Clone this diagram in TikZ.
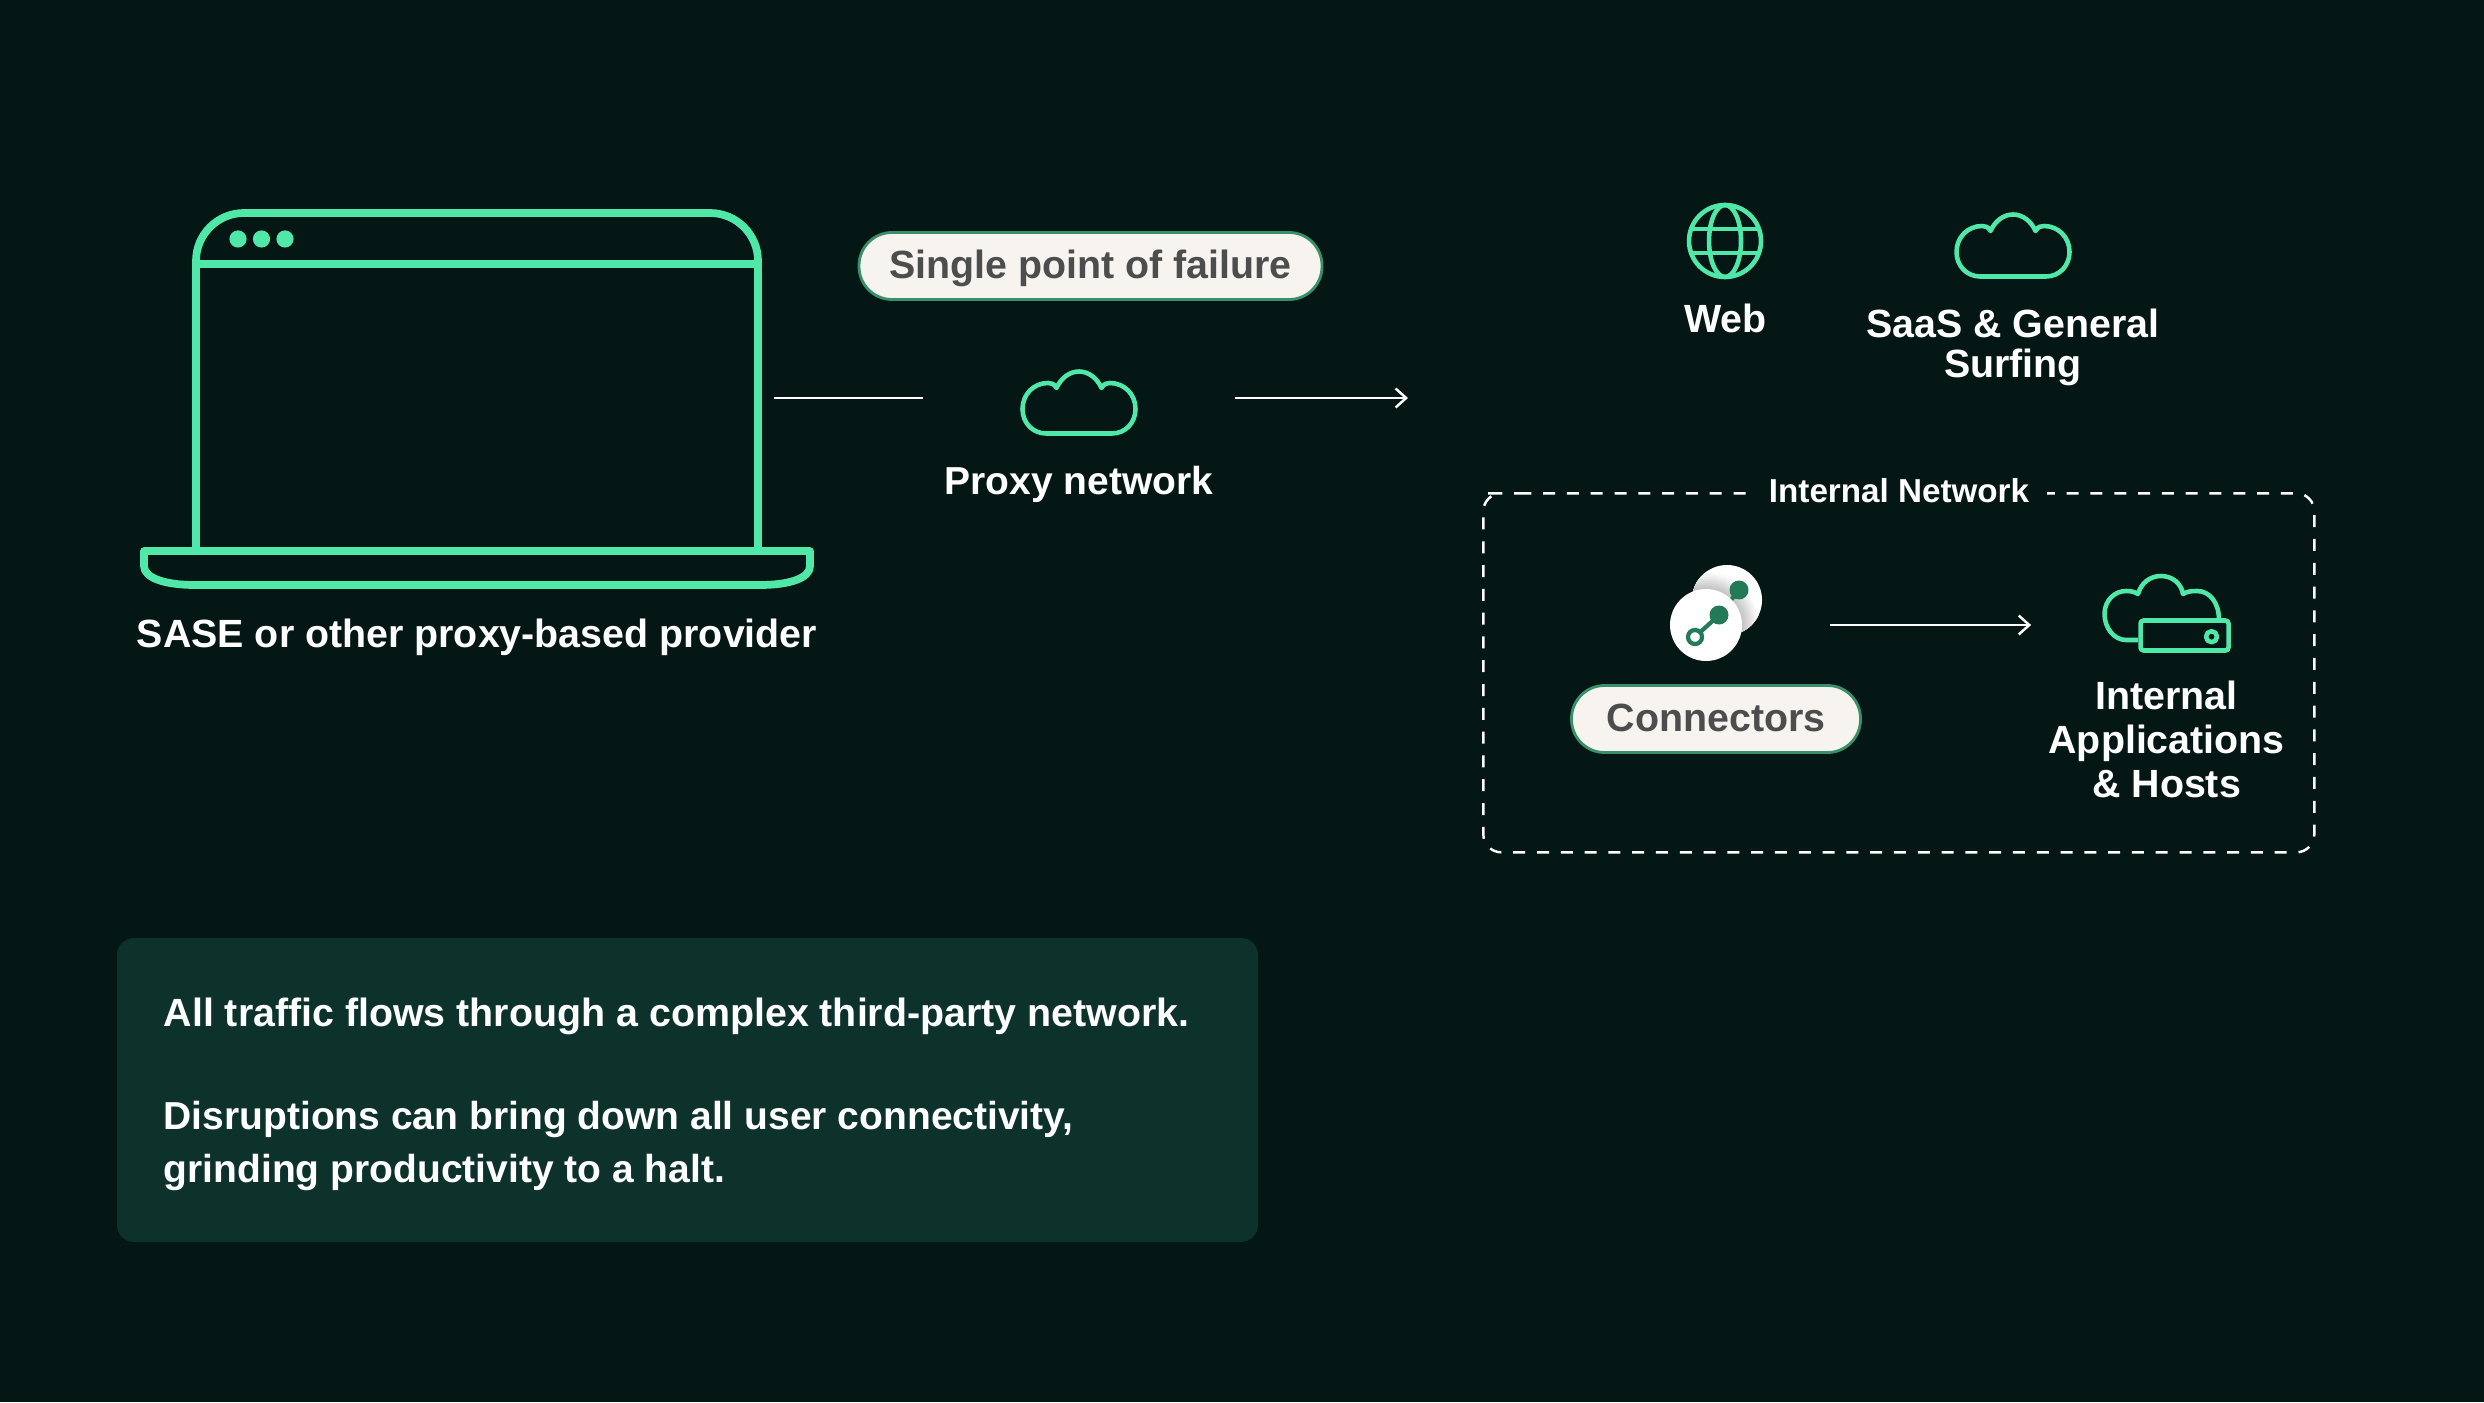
\documentclass[tikz,border=0pt]{standalone}
\usepackage{fontspec}
\setmainfont{Liberation Sans}
\usetikzlibrary{positioning,arrows.meta,bending}

\definecolor{pagebg}{HTML}{041715}
\definecolor{panelbg}{HTML}{0D322C}
\definecolor{mint}{HTML}{4FE8A9}
\definecolor{pillbg}{HTML}{F7F4EF}
\definecolor{pillrim}{HTML}{38906B}
\definecolor{pilltext}{HTML}{4D4D4D}
\definecolor{dotgreen}{HTML}{237A57}

\begin{document}
\begin{tikzpicture}[
  x=0.1mm, y=-0.1mm,
  laptopline/.style={draw=mint, line width=2.2pt, line join=round},
  iconline/.style={draw=mint, line width=1.3pt, line join=round},
  wire/.style={draw=white, line width=0.7pt},
  arrowwire/.style={wire, -{Straight Barb[length=3pt,width=5.4pt]}},
  label/.style={text=white, font=\fontsize{11.1}{12.5}\bfseries, anchor=base, inner sep=0pt, align=center},
  slot/.style={inner sep=0pt, outer sep=0pt, minimum height=8mm},
  pill/.style={draw=pillrim, line width=0.8pt, fill=pillbg, text=pilltext, rounded corners=3.3mm,
    font=\fontsize{11.2}{13}\bfseries, minimum height=6.7mm, inner sep=0pt, text height=2.5mm, text depth=0pt},
  cloudicon/.pic={
    \draw[iconline] (26,64.5) -- (92,64.5)
      .. controls (105,64.5) and (115.5,54) .. (115.5,40)
      .. controls (115.5,25) and (104,14) .. (90,14)
      .. controls (87,14) and (84,14.5) .. (81.5,19)
      .. controls (77,9) and (68.5,2.5) .. (59,2.5)
      .. controls (49.5,2.5) and (41,9) .. (36.5,19)
      .. controls (34,14.5) and (31,14) .. (28,14)
      .. controls (14,14) and (2.5,25) .. (2.5,40)
      .. controls (2.5,54) and (13,64.5) .. (26,64.5) -- cycle;
  }
]
\useasboundingbox[fill=pagebg] (0,0) rectangle (2484,1402);

% Laptop
\node[slot, minimum width=59.5mm] (laptop) at (476.5,398) {};
\draw[laptopline, rounded corners=4.8mm] (196,551) -- (196,213) -- (758,213) -- (758,551);
\draw[laptopline] (196,264) -- (758,264);
\draw[laptopline] (144,551) -- (144,566) .. controls (144,578) and (165,585) .. (195,585)
  -- (760,585) .. controls (790,585) and (810,578) .. (810,566) -- (810,551) -- cycle;
\foreach \dotx in {238,261.5,285}
  \fill[mint] (\dotx,239) circle (8.6);
\node[label, font=\fontsize{11.2}{12.5}\bfseries] (laptoplabel) at (477,647) {SASE or other proxy-based provider};

% Proxy network
\node[pill, minimum width=46.3mm] (spof) at (1090.5,266) {Single point of failure};
\node[slot, minimum width=31.2mm] (proxy) at (1078.6,398) {};
\pic at (1020,369) {cloudicon};
\node[label] (proxylabel) at (1079,494) {Proxy network};
\coordinate (outnet) at (1408,398);

% --- laptop -> proxy -> outside ---
\draw[wire] (laptop) -- (proxy);
\draw[arrowwire] (proxy) -- (outnet);

% Web
\node[circle, iconline, minimum size=7.2mm, inner sep=0pt] (web) at (1725,241) {};
\draw[iconline] (web.center) ellipse (16 and 36);
\draw[iconline] (1691,229) -- (1759,229);
\draw[iconline] (1691,253) -- (1759,253);
\node[label, font=\fontsize{11.2}{12.5}\bfseries] (weblabel) at (1725.5,333) {Web};

% SaaS
\pic at (1954,212) {cloudicon};
\node[label, font=\fontsize{11.2}{11.1}\bfseries] (saaslabel) at (2013,377) {SaaS \& General\\Surfing};

% Internal network box
\draw[wire, dash pattern=on 12*0.2845pt off 11.8*0.2845pt, rounded corners=1.8mm]
  (1501.3,493.3) -- (2314.3,493.3) -- (2314.3,852.3) -- (1483.3,852.3) -- (1483.3,493.3) -- cycle;
\node[fill=pagebg, inner xsep=1.8mm, inner ysep=1mm, text=white, font=\fontsize{9.45}{11}\bfseries, anchor=base] (inttitle) at (1899,502) {Internal Network};

% Connectors
\node[slot, minimum width=22.7mm] (connicon) at (1716,625) {};
\fill[white] (1727,600) circle (35);
\begin{scope}
  \clip (1727,600) circle (35);
  \foreach \rad [evaluate=\rad as \amt using (54-\rad)*1.4] in {54,52,...,36}
    \fill[black!\amt!white] (1706,625) circle (\rad);
\end{scope}
\fill[dotgreen] (1739,590) circle (9.5);
\draw[dotgreen, line width=1.2pt] (1739,590) -- (1731,600);
\fill[white] (1706,625) circle (36);
\fill[dotgreen] (1719,615) circle (9.5);
\draw[dotgreen, line width=1.2pt] (1719,615) -- (1695,637);
\draw[dotgreen, line width=1.2pt, fill=white] (1695,637) circle (7);
\node[pill, minimum width=28.9mm] (connpill) at (1716,719) {Connectors};

% Internal applications
\node[slot, minimum width=27.1mm] (intapp) at (2166.6,625) {};
\draw[iconline] (2138,640) -- (2126,640)
  .. controls (2114,640) and (2104.5,628) .. (2104.5,614)
  .. controls (2104.5,601) and (2114,591) .. (2126,591)
  .. controls (2130,591) and (2134,591.5) .. (2138,594)
  .. controls (2141,583) and (2150,576) .. (2161,576)
  .. controls (2172,576) and (2181,583) .. (2183,594)
  .. controls (2187,591.5) and (2191,591) .. (2197,591)
  .. controls (2210,591) and (2219,603) .. (2219,620);
\draw[iconline, rounded corners=0.3mm] (2140.5,620.5) rectangle (2228.5,650.5);
\draw[iconline] (2211.5,636.7) circle (5.5);
\node[label, font=\fontsize{11.2}{12.5}\bfseries] (intlabel) at (2166.6,797) {Internal\\Applications\\\& Hosts};

% --- connectors -> internal apps ---
\draw[arrowwire] (connicon) -- (intapp);

% Info panel
\fill[panelbg, rounded corners=1.7mm] (117,938) rectangle (1258,1242);
\node[label, anchor=base west, align=left, font=\fontsize{11.2}{12.5}\bfseries] (infotop) at (163,1026) {All traffic flows through a complex third-party network.};
\node[label, anchor=base west, align=left, font=\fontsize{11.1}{14.8}\bfseries] (infobot) at (163,1182) {Disruptions can bring down all user connectivity,\\grinding productivity to a halt.};
\end{tikzpicture}
\end{document}
